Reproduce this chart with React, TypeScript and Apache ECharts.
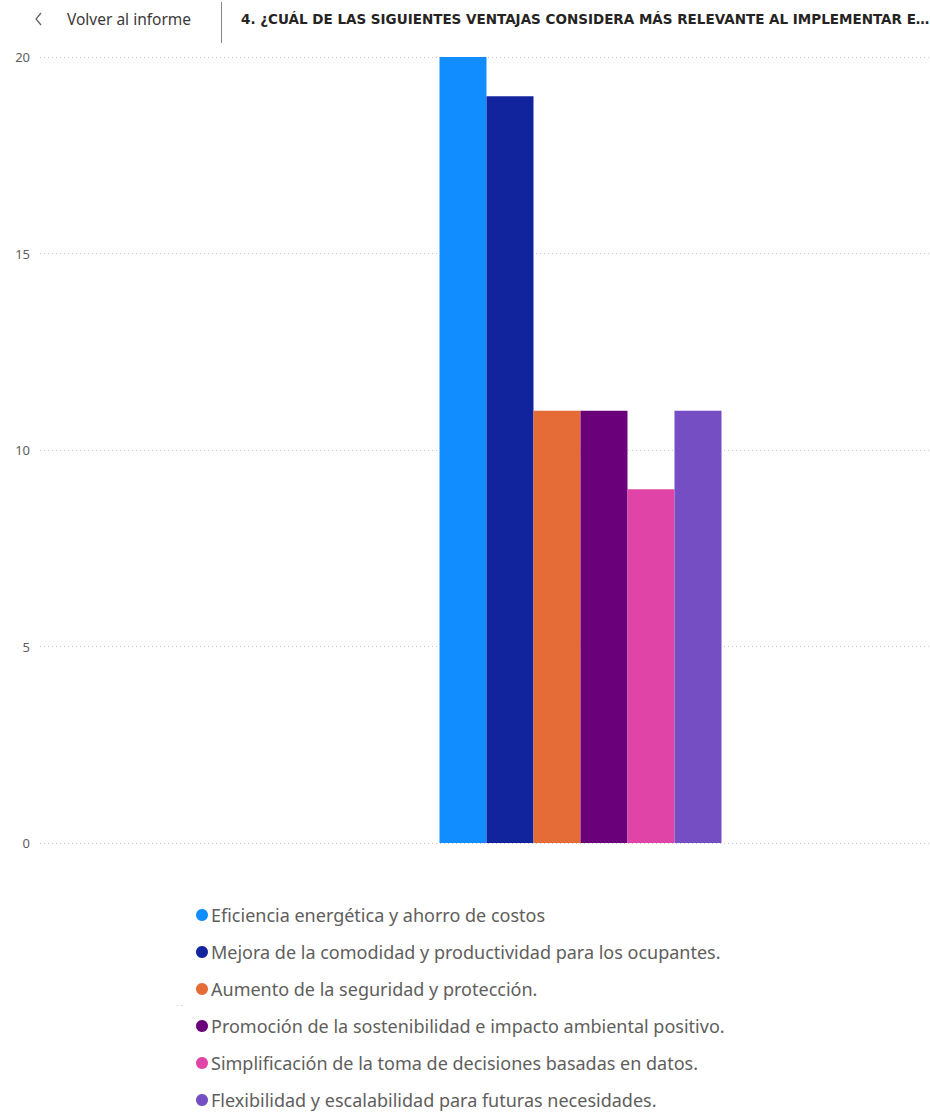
import React, { useEffect, useRef } from "react";
import * as echarts from "echarts";

// Survey answers: one bar per option, all under a single category
const categories = [""];
const optionNames = [
  "Eficiencia energética y ahorro de costos",
  "Mejora de la comodidad y productividad para los ocupantes.",
  "Aumento de la seguridad y protección.",
  "Promoción de la sostenibilidad e impacto ambiental positivo.",
  "Simplificación de la toma de decisiones basadas en datos.",
  "Flexibilidad y escalabilidad para futuras necesidades.",
];
const optionCounts = [20, 19, 11, 11, 9, 11];
const optionColors = ["#118DFF", "#12239E", "#E66C37", "#6B007B", "#E044A7", "#744EC2"];
const yTicks = [0, 5, 10, 15, 20];

const backLabel = "Volver al informe";
const pageTitle = "4. ¿CUÁL DE LAS SIGUIENTES VENTAJAS CONSIDERA MÁS RELEVANTE AL IMPLEMENTAR E…";

const CHART_W = 1130;
const VIEW_W = 930;
const VIEW_H = 1113;

export default function App() {
  const ref = useRef<HTMLDivElement>(null);

  useEffect(() => {
    if (!ref.current) return;
    const chart = echarts.init(ref.current, undefined, { renderer: "svg" });
    const font = "'Noto Sans', 'Open Sans', sans-serif";

    chart.setOption({
      animation: false,
      backgroundColor: "#ffffff",
      textStyle: { fontFamily: font },
      grid: { left: 40, right: 9, top: 57, bottom: 270, containLabel: false },
      legend: {
        orient: "vertical",
        left: 196,
        top: 906,
        padding: 0,
        icon: "circle",
        itemWidth: 12,
        itemHeight: 12,
        itemGap: 19,
        itemStyle: { borderWidth: 0 },
        textStyle: { fontSize: 18, lineHeight: 18, color: "#605E5C", fontFamily: font, padding: [0, 0, 0, -2] },
        data: optionNames,
      },
      xAxis: {
        type: "category",
        data: categories,
        axisLine: { show: false },
        axisTick: { show: false },
        axisLabel: { show: false },
      },
      yAxis: {
        type: "value",
        min: yTicks[0],
        max: yTicks[yTicks.length - 1],
        interval: yTicks[1] - yTicks[0],
        axisLine: { show: false },
        axisTick: { show: false },
        axisLabel: { margin: 10, fontSize: 13, color: "#605E5C", fontFamily: font },
        splitLine: { lineStyle: { type: [1, 3], color: "#C8C6C4", width: 1 } },
      },
      series: optionNames.map((name, i) => ({
        name,
        type: "bar",
        data: [optionCounts[i]],
        barWidth: 47,
        barGap: "0%",
        itemStyle: { color: optionColors[i] },
      })),
      graphic: [
        {
          type: "polyline",
          shape: { points: [[41, 13], [36, 19], [41, 25]] },
          style: { stroke: "#605E5C", lineWidth: 1.2, fill: "none" },
        },
        {
          type: "text",
          x: 67,
          y: 19,
          style: { text: backLabel, font: `15.5px ${font}`, fill: "#3B3A39", verticalAlign: "middle" },
        },
        {
          type: "line",
          shape: { x1: 221.5, y1: 2, x2: 221.5, y2: 43 },
          style: { stroke: "#8A8886", lineWidth: 1 },
        },
        {
          type: "text",
          x: 241,
          y: 19,
          style: {
            text: pageTitle,
            font: `bold 13.5px 'DejaVu Sans', sans-serif`,
            fill: "#252423",
            verticalAlign: "middle",
          },
        },
        {
          type: "text",
          x: 176,
          y: 1005,
          style: { text: "· ·", font: `9px ${font}`, fill: "#C8C6C4", verticalAlign: "middle" },
        },
      ],
    });

    return () => chart.dispose();
  }, []);

  return (
    <div style={{ position: "fixed", left: 0, top: 0, width: VIEW_W, height: VIEW_H, overflow: "hidden", background: "#fff" }}>
      <div ref={ref} style={{ width: CHART_W, height: VIEW_H }} />
    </div>
  );
}
